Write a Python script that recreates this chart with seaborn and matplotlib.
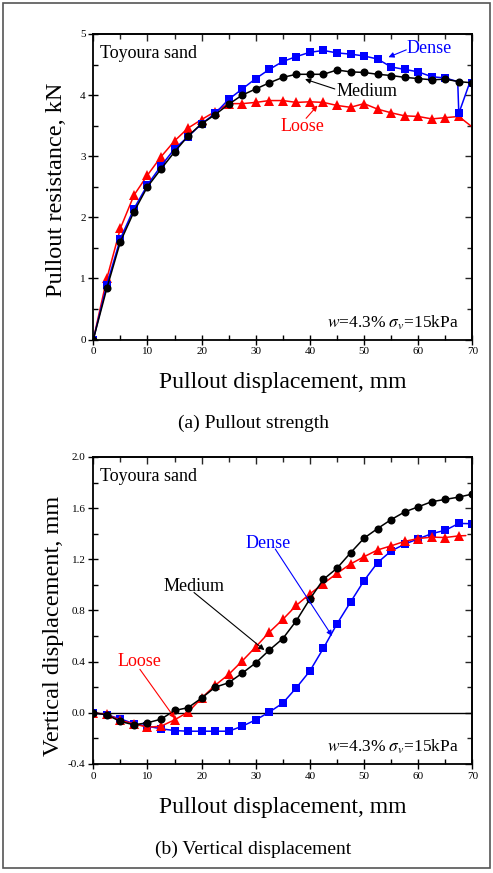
import numpy as np
import pandas as pd
import matplotlib
matplotlib.use("Agg")
import matplotlib.pyplot as plt
import seaborn as sns
from matplotlib.patches import Rectangle

sns.set_theme(style="ticks")
plt.rcParams['font.family'] = ['Liberation Serif', 'DejaVu Serif']
plt.rcParams['mathtext.fontset'] = 'stix'

# ---------------- data: (a) pullout strength ----------------
dense_a_x = [0, 2.5, 5, 7.5, 10, 12.5, 15, 17.5, 20, 22.5, 25, 27.5, 30, 32.5, 35, 37.5, 40, 42.5,
             45, 47.5, 50, 52.5, 55, 57.5, 60, 62.5, 65, 67.3, 67.5, 69.5, 70]
dense_a_y = [0, 0.90, 1.65, 2.14, 2.53, 2.84, 3.12, 3.32, 3.53, 3.70, 3.93, 4.10, 4.27, 4.42, 4.55, 4.63,
             4.70, 4.73, 4.69, 4.67, 4.64, 4.59, 4.46, 4.42, 4.38, 4.30, 4.28, 4.22, 3.70, 4.20, 4.19]
medium_a_x = [0, 2.5, 5, 7.5, 10, 12.5, 15, 17.5, 20, 22.5, 25, 27.5, 30, 32.5, 35, 37.5, 40, 42.5,
              45, 47.5, 50, 52.5, 55, 57.5, 60, 62.5, 65, 67.5, 70]
medium_a_y = [0, 0.84, 1.60, 2.09, 2.50, 2.79, 3.07, 3.33, 3.53, 3.68, 3.85, 4.00, 4.10, 4.20, 4.29, 4.34,
              4.34, 4.34, 4.41, 4.38, 4.37, 4.34, 4.32, 4.29, 4.27, 4.25, 4.26, 4.22, 4.20]
loose_a_x = [0, 2.5, 5, 7.5, 10, 12.5, 15, 17.5, 20, 22.5, 25, 27.5, 30, 32.5, 35, 37.5, 40, 42.5,
             45, 47.5, 50, 52.5, 55, 57.5, 60, 62.5, 65, 67.5, 69.8]
loose_a_y = [0, 1.00, 1.82, 2.36, 2.69, 2.99, 3.25, 3.46, 3.60, 3.73, 3.86, 3.86, 3.88, 3.91, 3.91, 3.88,
             3.89, 3.88, 3.83, 3.80, 3.86, 3.77, 3.71, 3.66, 3.65, 3.61, 3.63, 3.65, 3.49]

# ---------------- data: (b) vertical displacement ----------------
dense_b_x = [0, 2.5, 5, 7.5, 10, 12.5, 15, 17.5, 20, 22.5, 25, 27.5, 30, 32.5, 35, 37.5, 40, 42.5,
             45, 47.5, 50, 52.5, 55, 57.5, 60, 62.5, 65, 67.5, 70]
dense_b_y = [0, -0.016, -0.047, -0.086, -0.105, -0.125, -0.139, -0.144, -0.144, -0.144, -0.144, -0.105,
             -0.055, 0.005, 0.076, 0.196, 0.327, 0.505, 0.695, 0.865, 1.033, 1.174, 1.265, 1.318,
             1.360, 1.400, 1.427, 1.480, 1.478]
medium_b_x = [0, 2.5, 5, 7.5, 10, 12.5, 15, 17.5, 20, 22.5, 25, 27.5, 30, 32.5, 35, 37.5, 40, 42.5,
              45, 47.5, 50, 52.5, 55, 57.5, 60, 62.5, 65, 67.5, 70]
medium_b_y = [0, -0.016, -0.068, -0.094, -0.078, -0.050, 0.018, 0.040, 0.115, 0.200, 0.235, 0.310,
              0.390, 0.490, 0.580, 0.720, 0.890, 1.043, 1.130, 1.250, 1.365, 1.440, 1.510, 1.570,
              1.610, 1.650, 1.668, 1.686, 1.710]
loose_b_x = [0, 2.5, 5, 7.5, 10, 12.5, 15, 17.5, 20, 22.5, 25, 27.5, 30, 32.5, 35, 37.5, 40, 42.5,
             45, 47.5, 50, 52.5, 55, 57.5, 60, 62.5, 65, 67.5, 68.8]
loose_b_y = [0, -0.013, -0.060, -0.086, -0.113, -0.105, -0.055, 0.005, 0.115, 0.215, 0.300, 0.405,
             0.515, 0.630, 0.730, 0.840, 0.930, 1.010, 1.090, 1.163, 1.220, 1.273, 1.305, 1.340,
             1.362, 1.373, 1.370, 1.383, 1.385]

BLUE = '#0000ff'
RED = '#ff0000'
BLACK = '#000000'

fig = plt.figure(figsize=(4.93, 8.73), dpi=100)
fig.patch.set_facecolor('white')
fig.patches.append(Rectangle((3 / 493, 5 / 873), 487 / 493, 865 / 873, transform=fig.transFigure,
                             fill=False, edgecolor='#555555', linewidth=1.2))

ax1 = fig.add_axes([0.1893, 0.6111, 0.7688, 0.3500])
ax2 = fig.add_axes([0.1893, 0.1249, 0.7688, 0.3517])


def draw(ax, x, y, color, marker, ms):
    x = np.asarray(x, float)
    mask = list(np.isclose(np.mod(x, 2.5), 0) | np.isclose(np.mod(x, 2.5), 2.5))
    df = pd.DataFrame({'x': x, 'y': y})
    sns.lineplot(data=df, x='x', y='y', ax=ax, color=color, marker=marker, markersize=ms,
                 markeredgewidth=0, linewidth=1.1, sort=False, estimator=None,
                 markevery=mask, markerfacecolor=color)


for ax in (ax1, ax2):
    ax.set_facecolor('white')
    for s in ax.spines.values():
        s.set_linewidth(1.3)
        s.set_color('black')

draw(ax1, loose_a_x, loose_a_y, RED, '^', 7)
draw(ax1, dense_a_x, dense_a_y, BLUE, 's', 5.2)
draw(ax1, medium_a_x, medium_a_y, BLACK, 'o', 5.8)

draw(ax2, dense_b_x, dense_b_y, BLUE, 's', 5.2)
draw(ax2, loose_b_x, loose_b_y, RED, '^', 7)
draw(ax2, medium_b_x, medium_b_y, BLACK, 'o', 5.8)
ax2.axhline(0, color='black', linewidth=1.0, zorder=1)

ax1.set_xlim(0, 70)
ax1.set_ylim(0, 5)
ax2.set_xlim(0, 70)
ax2.set_ylim(-0.4, 2.0)
ax1.set_xticks(np.arange(0, 71, 10))
ax1.set_xticks(np.arange(5, 70, 10), minor=True)
ax1.set_yticks(np.arange(0, 6, 1))
ax1.set_yticks(np.arange(0.5, 5, 1), minor=True)
ax2.set_xticks(np.arange(0, 71, 10))
ax2.set_xticks(np.arange(5, 70, 10), minor=True)
ax2.set_yticks(np.arange(-0.4, 2.01, 0.4))
ax2.set_yticks(np.arange(-0.2, 2.0, 0.4), minor=True)
ax2.set_yticklabels([f'{v:.1f}' for v in np.arange(-0.4, 2.01, 0.4)])

for ax in (ax1, ax2):
    ax.tick_params(which='major', direction='inout', length=7, width=1.0, labelsize=8,
                   pad=2, color='black', labelcolor='black')
    ax.tick_params(which='minor', direction='in', length=3.5, width=1.0, color='black')
    secx = ax.secondary_xaxis('top')
    secx.set_xticks(ax.get_xticks(minor=False))
    secx.set_xticks(ax.get_xticks(minor=True), minor=True)
    secx.tick_params(which='both', direction='in', length=3.5, width=1.0, labeltop=False)
    secx.tick_params(which='major', length=5)
    secy = ax.secondary_yaxis('right')
    secy.set_yticks(ax.get_yticks(minor=False))
    secy.set_yticks(ax.get_yticks(minor=True), minor=True)
    secy.tick_params(which='both', direction='in', length=3.5, width=1.0, labelright=False)
    secy.tick_params(which='major', length=5)
    ax.set_xlabel('Pullout displacement, mm', fontsize=17, color='black')
    ax.xaxis.set_label_coords(0.5, -0.141)
    ax.xaxis.label.set_va('center')
    ax.text(0.018, 0.937, 'Toyoura sand', transform=ax.transAxes, fontsize=13,
            ha='left', va='center', color='black')
    ax.text(0.965, 0.055, r'$w$=4.3% $\sigma_v$=15kPa', transform=ax.transAxes,
            fontsize=12.5, ha='right', va='center', color='black')

ax1.set_ylabel('Pullout resistance, kN', fontsize=17.5, color='black')
ax1.yaxis.set_label_coords(-0.096, 0.49)
ax1.yaxis.label.set_va('center')
ax2.set_ylabel('Vertical displacement, mm', fontsize=17.5, color='black')
ax2.yaxis.set_label_coords(-0.106, 0.45)
ax2.yaxis.label.set_va('center')

arrow_kw = dict(arrowstyle='-|>', lw=0.8, mutation_scale=8, shrinkA=0, shrinkB=0)
# (a) annotations
ax1.annotate('', xy=(54.5, 4.62), xytext=(57.8, 4.74), arrowprops=dict(color=BLUE, **arrow_kw))
ax1.text(57.8, 4.76, 'Dense', color=BLUE, fontsize=13, ha='left', va='center')
ax1.annotate('', xy=(39.1, 4.26), xytext=(44.6, 4.10), arrowprops=dict(color=BLACK, **arrow_kw))
ax1.text(45.0, 4.06, 'Medium', color=BLACK, fontsize=13, ha='left', va='center')
ax1.annotate('', xy=(41.4, 3.83), xytext=(39.3, 3.62), arrowprops=dict(color=RED, **arrow_kw))
ax1.text(38.6, 3.48, 'Loose', color=RED, fontsize=13, ha='center', va='center')

# (b) annotations
ax2.annotate('', xy=(44.1, 0.60), xytext=(33.6, 1.28), arrowprops=dict(color=BLUE, **arrow_kw))
ax2.text(32.2, 1.32, 'Dense', color=BLUE, fontsize=13, ha='center', va='center')
ax2.annotate('', xy=(31.6, 0.49), xytext=(18.6, 0.94), arrowprops=dict(color=BLACK, **arrow_kw))
ax2.text(18.6, 0.99, 'Medium', color=BLACK, fontsize=13, ha='center', va='center')
ax2.annotate('', xy=(15.1, -0.045), xytext=(8.6, 0.34), arrowprops=dict(color=RED, **arrow_kw))
ax2.text(8.6, 0.40, 'Loose', color=RED, fontsize=13, ha='center', va='center')

fig.text(253 / 493, 1 - 423 / 873, '(a) Pullout strength', fontsize=14, ha='center', va='center',
         color='black')
fig.text(253 / 493, 1 - 849 / 873, '(b) Vertical displacement', fontsize=14, ha='center',
         va='center', color='black')

fig.savefig('out.png', dpi=100, facecolor='white')
